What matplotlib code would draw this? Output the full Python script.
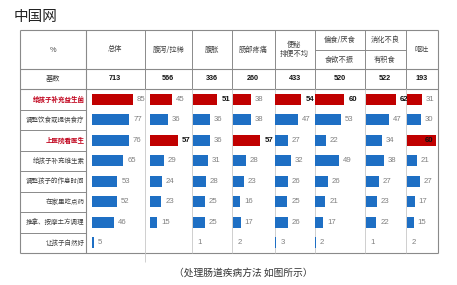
"""Table-style bar chart: how parents handle children's gut problems (中国网)."""
import matplotlib
matplotlib.use("Agg")
import matplotlib.pyplot as plt
import numpy as np

plt.rcParams["font.family"] = ["Noto Sans CJK SC", "DejaVu Sans"]

# ---- data -------------------------------------------------------------
methods = ["给孩子补充益生菌", "调整饮食或提供食疗", "上医院看医生", "给孩子补充维生素",
           "调整孩子的作息时间", "在家里吃点药", "推拿、按摩土方调理", "让孩子自然好"]
col_heads = ["总体", "腹泻/拉稀", "腹胀", "肠部疼痛", "便秘\n排便不均", "偏食/厌食", "消化不良", "呕吐"]
col_subheads = ["", "", "", "", "", "食欲不振", "有积食", ""]
base = [713, 566, 336, 260, 433, 520, 522, 193]

total = [85, 77, 76, 65, 53, 52, 46, 5]
diarrhea = [45, 36, 57, 29, 24, 23, 15, np.nan]
bloating = [51, 36, 36, 31, 28, 25, 25, 1]
belly_pain = [38, 38, 57, 28, 23, 16, 17, 2]
constipation = [54, 47, 27, 32, 26, 25, 26, 3]
picky_eating = [60, 53, 22, 49, 26, 21, 17, 2]
indigestion = [62, 47, 34, 38, 27, 23, 22, 1]
vomiting = [31, 30, 60, 21, 27, 17, 15, 2]
series = [total, diarrhea, bloating, belly_pain, constipation, picky_eating, indigestion, vomiting]

red_rows = [0, 2]                                   # highlighted method labels
red_cells = [(0, c) for c in range(8)] + [(2, 1), (2, 3), (2, 7)]
bold_cells = [(0, 2), (0, 4), (0, 5), (0, 6), (2, 1), (2, 3), (2, 7)]

# ---- layout (pixels) --------------------------------------------------
W, H = 457, 285
RED, BLUE = "#C00000", "#1E6FC4"
GRID, BORDER, TXT, NUM = "#c8c8c8", "#8a8a8a", "#404040", "#808080"
PX_PER_UNIT = 0.49
edges = [86, 144.5, 192, 232, 274.5, 314.5, 364.5, 405.5, 438]
bar_pad = [5.5, 5.5, 0.5, 0.5, 0.5, 0.5, 1, 1]
LEFT, TOP, HEAD_BOT, BASE_BOT, BOTTOM = 20, 30, 69, 89, 253
row_h = (BOTTOM - BASE_BOT) / len(methods)

fig = plt.figure(figsize=(W / 100, H / 100), dpi=100)
bg = fig.add_axes([0, 0, 1, 1])
bg.set_xlim(0, W); bg.set_ylim(H, 0); bg.axis("off")

bg.text(14, 17, "中国网", fontsize=10.5, va="center", ha="left", color="#222222")

# table frame
bg.hlines([TOP, HEAD_BOT, BASE_BOT, BOTTOM], LEFT, edges[-1], color=BORDER, lw=0.8)
bg.vlines([LEFT, edges[0], edges[-1]], TOP, BOTTOM, color=BORDER, lw=0.8)
bg.vlines(edges[1:-1], TOP, BASE_BOT, color=BORDER, lw=0.7)
bg.vlines(edges[2:-1], BASE_BOT, BOTTOM, color=GRID, lw=0.6)
bg.vlines(edges[1], BASE_BOT, BOTTOM + 9, color=GRID, lw=0.6)
bg.hlines((TOP + HEAD_BOT) / 2, edges[5], edges[7], color=BORDER, lw=0.7)
for i in range(1, len(methods)):
    y = BASE_BOT + i * row_h
    bg.hlines(y, LEFT, edges[0], color=BORDER, lw=0.7)

# headers
bg.text((LEFT + edges[0]) / 2, (TOP + HEAD_BOT) / 2, "%", fontsize=5.2, ha="center", va="center", color=TXT)
bg.text((LEFT + edges[0]) / 2, (HEAD_BOT + BASE_BOT) / 2, "基数", fontsize=5.2, ha="center", va="center", color=TXT)
for c, (head, sub) in enumerate(zip(col_heads, col_subheads)):
    xc = (edges[c] + edges[c + 1]) / 2
    if sub:
        bg.text(xc, (TOP * 3 + HEAD_BOT) / 4 + 0.5, head, fontsize=5.2, ha="center", va="center", color=TXT)
        bg.text(xc, (TOP + HEAD_BOT * 3) / 4 + 0.5, sub, fontsize=5.2, ha="center", va="center", color=TXT)
    else:
        bg.text(xc, (TOP + HEAD_BOT) / 2, head, fontsize=5.2, ha="center", va="center",
                color=TXT, linespacing=1.2)
    bg.text(xc, (HEAD_BOT + BASE_BOT) / 2, str(base[c]), fontsize=5.2, ha="center", va="center",
            fontweight="bold", color="#111111", family=["Liberation Sans Narrow", "Liberation Sans"])

for i, m in enumerate(methods):
    y = BASE_BOT + (i + 0.5) * row_h
    hl = i in red_rows
    bg.text(edges[0] - 1.5, y, m, fontsize=4.7, ha="right", va="center",
            color="#C0001A" if hl else TXT, fontweight="bold" if hl else "normal")

# bars, one small axes per column
for c, vals in enumerate(series):
    x0, x1 = edges[c] + bar_pad[c], edges[c + 1]
    ax = fig.add_axes([x0 / W, (H - BOTTOM) / H, (x1 - x0) / W, (BOTTOM - BASE_BOT) / H])
    ax.set_xlim(0, (x1 - x0) / PX_PER_UNIT)
    ax.set_ylim(len(methods) - 0.5, -0.5)
    ax.axis("off")
    rows = np.arange(len(vals))
    colors = [RED if (r, c) in red_cells else BLUE for r in rows]
    ax.barh(rows, np.nan_to_num(vals), height=0.54, color=colors, linewidth=0)
    for r, v in zip(rows, vals):
        if np.isnan(v):
            continue
        bold = (r, c) in bold_cells
        inside = (x1 - x0) - v * PX_PER_UNIT < 8
        ax.annotate(f"{v:g}", (v, r), xytext=(-2 if inside else 2.8, 0), textcoords="offset points",
                    ha="right" if inside else "left", va="center", fontsize=5.6,
                    fontweight="bold" if bold else "normal",
                    color="#111111" if bold else NUM,
                    family=["Liberation Sans Narrow", "Liberation Sans"])

bg.text(243, 273, "（处理肠道疾病方法 如图所示）", fontsize=7, ha="center", va="center", color="#333333")

fig.savefig("out.png", dpi=100)
